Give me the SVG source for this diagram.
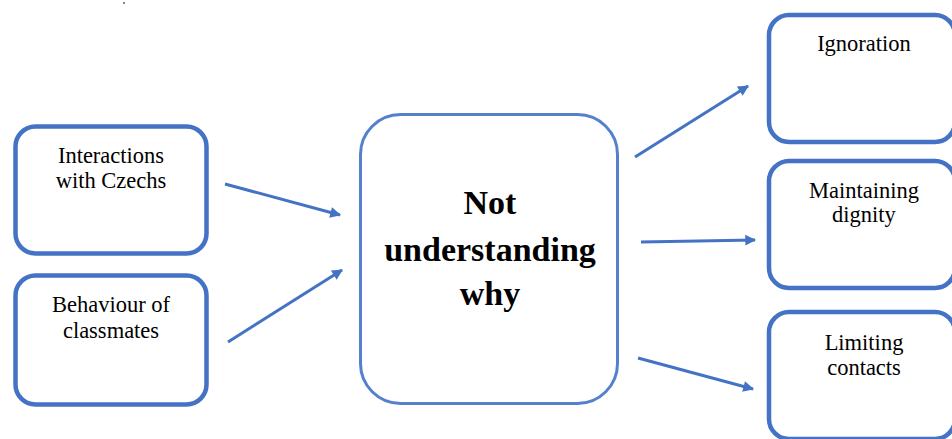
<svg xmlns="http://www.w3.org/2000/svg" width="952" height="439" viewBox="0 0 952 439">
  <defs>
    <marker id="arrow" viewBox="0 0 10 10" refX="9" refY="5" markerWidth="4" markerHeight="3.6" markerUnits="strokeWidth" orient="auto">
      <path d="M0,0 L10,5 L0,10 z" fill="#4472C4"/>
    </marker>
  </defs>
  <style>
    .box { fill: #ffffff; stroke: #4472C4; stroke-width: 4.5; }
    .core { fill: #ffffff; stroke: #5580CC; stroke-width: 3; }
    .label { font-family: "Liberation Serif", "Times New Roman", Times, serif; font-size: 22.5px; fill: #000000; text-anchor: middle; }
    .title { font-family: "Liberation Serif", "Times New Roman", Times, serif; font-size: 34px; font-weight: 700; fill: #000000; text-anchor: middle; }
    .link { stroke: #4472C4; stroke-width: 3; fill: none; marker-end: url(#arrow); }
  </style>
  <rect width="952" height="439" fill="#ffffff"/>
  <!-- small speck near the top edge -->
  <rect x="123" y="2" width="2" height="2" fill="#888888"/>

  <!-- causes -->
  <g id="interactions">
    <rect class="box" x="15.5" y="126.5" width="191" height="127" rx="20"/>
    <text class="label" x="111" y="163">Interactions</text>
    <text class="label" x="111" y="188">with Czechs</text>
  </g>

  <g id="behaviour">
    <rect class="box" x="15.5" y="275.5" width="191" height="129" rx="20"/>
    <text class="label" x="111" y="312">Behaviour of</text>
    <text class="label" x="111" y="338">classmates</text>
  </g>

  <!-- central state -->
  <g id="not-understanding">
    <rect class="core" x="360.5" y="114.5" width="257" height="289" rx="40"/>
    <text class="title" x="490" y="214">Not</text>
    <text class="title" x="490" y="261">understanding</text>
    <text class="title" x="490" y="305">why</text>
  </g>

  <!-- responses, running off the right edge -->
  <g id="ignoration">
    <rect class="box" x="769" y="15" width="186" height="127" rx="20"/>
    <text class="label" x="864" y="51">Ignoration</text>
  </g>

  <g id="dignity">
    <rect class="box" x="769" y="161" width="186" height="127" rx="20"/>
    <text class="label" x="864" y="198">Maintaining</text>
    <text class="label" x="864" y="222">dignity</text>
  </g>

  <g id="contacts">
    <rect class="box" x="769" y="312" width="186" height="127" rx="20"/>
    <text class="label" x="864" y="350">Limiting</text>
    <text class="label" x="864" y="375">contacts</text>
  </g>

  <g id="connectors">
    <line class="link" x1="225" y1="184" x2="340" y2="215"/>
    <line class="link" x1="228" y1="342" x2="342" y2="270"/>
    <line class="link" x1="635" y1="157" x2="748" y2="86"/>
    <line class="link" x1="641" y1="242" x2="755" y2="240"/>
    <line class="link" x1="638" y1="358" x2="753" y2="389"/>
  </g>
</svg>
